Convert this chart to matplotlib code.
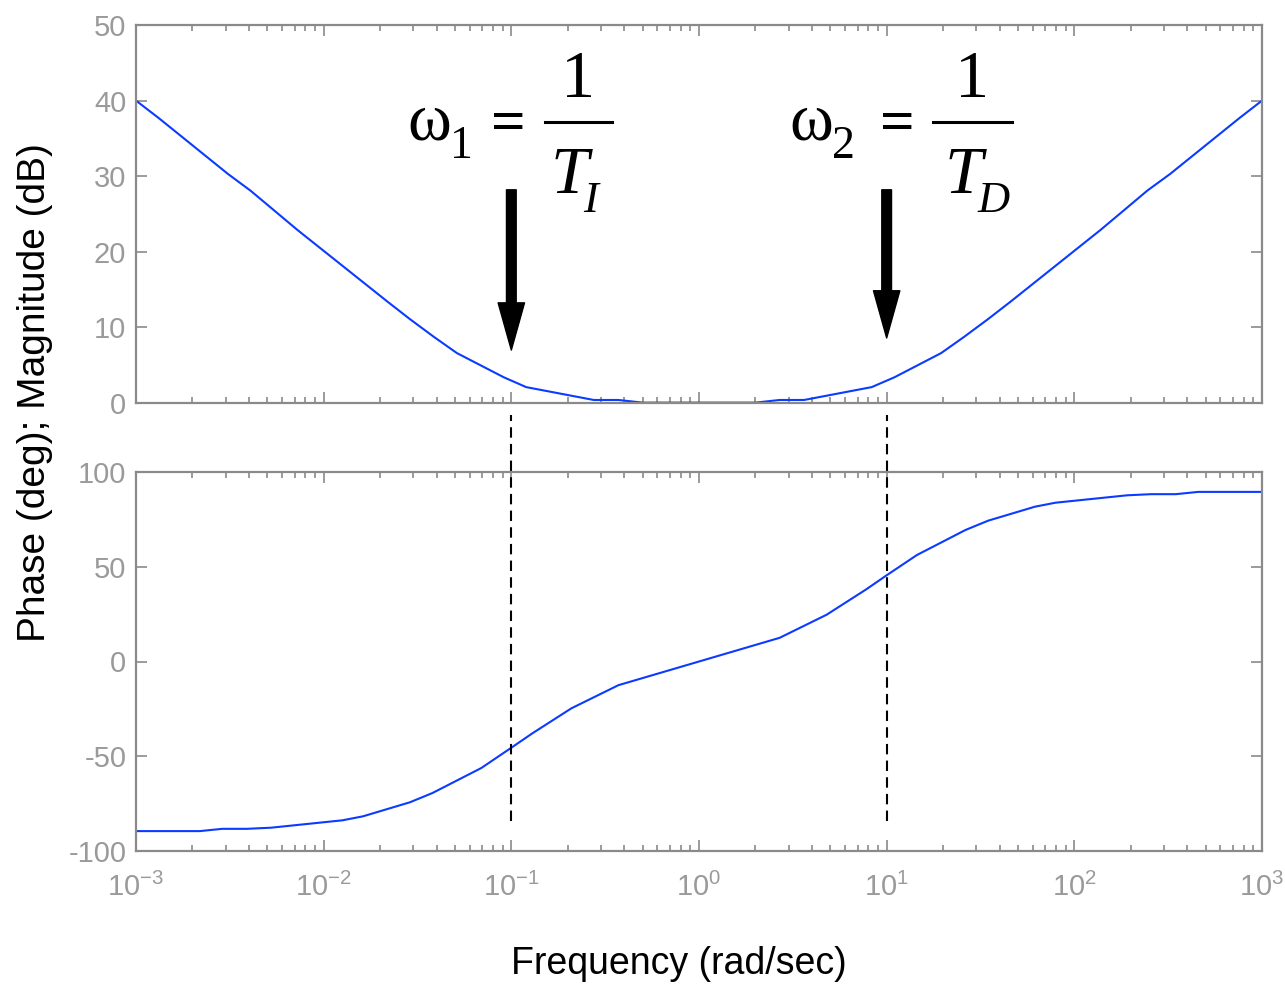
import matplotlib
matplotlib.use("Agg")
import matplotlib.pyplot as plt
from matplotlib.lines import Line2D
import numpy as np

plt.rcParams['font.family'] = ['Liberation Sans', 'DejaVu Sans']
plt.rcParams['axes.unicode_minus'] = False

# magnitude curve
mag_w = [0.001, 0.00132, 0.00309, 0.00407, 0.00537, 0.00724, 0.0219, 0.0288,
         0.0389, 0.0513, 0.0912, 0.120, 0.275, 0.372, 0.501,
         2.00, 2.69, 3.63, 8.32, 11.0, 19.5, 25.7, 34.7, 45.7,
         138, 186, 245, 324, 759, 1000]
mag_db = [40.0, 37.7, 30.3, 28.1, 25.6, 22.9, 13.4, 11.1,
          8.7, 6.6, 3.4, 2.1, 0.4, 0.4, 0.05,
          0.05, 0.4, 0.4, 2.1, 3.4, 6.6, 8.7, 11.1, 13.4,
          22.9, 25.6, 28.1, 30.3, 37.7, 40.0]

# phase curve
ph_w = [0.001, 0.00219, 0.00288, 0.00389, 0.00525, 0.0126, 0.0162, 0.0288,
        0.0380, 0.0692, 0.1, 0.129, 0.209, 0.372,
        2.69, 4.79, 7.76, 10, 14.5, 26.3, 34.7, 61.7, 79.4,
        191, 257, 347, 457, 1000]
ph_deg = [-89.5, -89.5, -88.3, -88.3, -87.7, -83.8, -81.7, -74.3,
          -69.4, -56.2, -45.5, -38.0, -24.7, -12.5,
          12.5, 24.7, 38.0, 45.5, 56.2, 69.4, 74.3, 81.7, 83.8,
          87.7, 88.3, 88.3, 89.5, 89.5]

w1 = 0.1   # 1/T_I
w2 = 10.0  # 1/T_D

W, H = 1285, 984
fig = plt.figure(figsize=(W / 100, H / 100), dpi=100)
left = 136 / W
width = 1126 / W
ax1 = fig.add_axes([left, 1 - 403 / H, width, 378 / H])
ax2 = fig.add_axes([left, 1 - 851 / H, width, 379 / H])

spine_col = '#8a8a8a'
label_col = '#9a9a9a'
blue = '#0b3bff'

for ax in (ax1, ax2):
    ax.set_xscale('log')
    ax.set_xlim(1e-3, 1e3)
    for s in ax.spines.values():
        s.set_color(spine_col)
        s.set_linewidth(1.6)
    ax.tick_params(which='both', direction='in', top=True, right=True,
                   color=spine_col, width=1.2, labelcolor=label_col,
                   labelsize=21)
    ax.tick_params(which='major', length=8)
    ax.tick_params(which='minor', length=4)
    ax.tick_params(axis='y', pad=7)

ax1.plot(mag_w, mag_db, color=blue, lw=1.5)
ax1.set_ylim(0, 50)
ax1.set_yticks([0, 10, 20, 30, 40, 50])
ax1.tick_params(labelbottom=False)

ax2.plot(ph_w, ph_deg, color=blue, lw=1.5)
ax2.set_ylim(-100, 100)
ax2.set_yticks([-100, -50, 0, 50, 100])
ax2.tick_params(axis='x', pad=16)

fig.text(679 / W, 1 - 964 / H, 'Frequency (rad/sec)', ha='center',
         va='center', fontsize=27)
fig.text(35 / W, 1 - 393 / H, 'Phase (deg); Magnitude (dB)', rotation=90,
         ha='center', va='center', fontsize=28)

# dashed markers at the corner frequencies
for w in (w1, w2):
    ax2.plot([w, w], [-84, 130], color='k', lw=1.5, dashes=(5, 3),
             clip_on=False)

# arrows
ax1.annotate('', xy=(w1, 7.0), xytext=(w1, 28.2),
             arrowprops=dict(facecolor='k', edgecolor='k', width=7,
                             headwidth=19, headlength=34, shrink=0))
ax1.annotate('', xy=(w2, 8.6), xytext=(w2, 28.2),
             arrowprops=dict(facecolor='k', edgecolor='k', width=7,
                             headwidth=19, headlength=34, shrink=0))


# corner frequency labels, built piece by piece (pixel positions)
def px(x, y):
    return x / W, 1 - y / H


serif = 'Liberation Serif'
# (x of omega, subscript, x of '=', bar x0, bar x1, denominator subscript)
labels = [(407, '1', 508, 545, 612, 'I'),
          (789, '2', 897, 933, 1012, 'D')]
for x_om, idx, x_eq, b0, b1, sub in labels:
    fig.text(*px(x_om, 140), '\u03c9', ha='left', va='baseline',
             fontsize=48, family=serif)
    fig.text(*px(x_om + 43, 158), idx, ha='left', va='baseline',
             fontsize=33, family=serif)
    fig.text(*px(x_eq, 141), '=', ha='center', va='baseline',
             fontsize=44, fontweight='bold', family=serif)
    xc = (b0 + b1) / 2
    fig.text(*px(xc, 97), '1', ha='center', va='baseline',
             fontsize=49, family=serif)
    fig.add_artist(Line2D([b0 / W, b1 / W], [1 - 122 / H, 1 - 122 / H],
                          color='k', lw=2.2))
    fig.text(*px(xc - 28, 193), 'T', ha='left', va='baseline',
             fontsize=49, family=serif, style='italic')
    fig.text(*px(xc + 5, 212), sub, ha='left', va='baseline',
             fontsize=32, family=serif, style='italic')

fig.savefig('out.png', dpi=100)
